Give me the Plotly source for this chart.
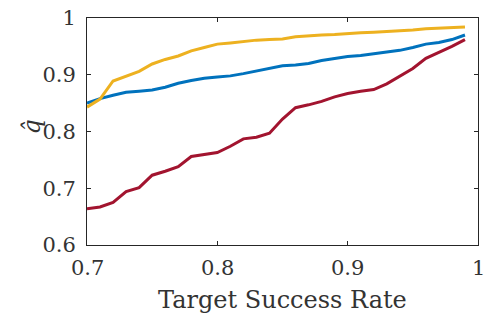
import plotly.graph_objects as go

x = [round(0.70 + 0.01 * i, 2) for i in range(30)]

q_yellow = [0.843, 0.857, 0.889, 0.897, 0.906, 0.919, 0.927, 0.933, 0.942, 0.948,
            0.954, 0.956, 0.959, 0.961, 0.962, 0.963, 0.967, 0.969, 0.970, 0.971,
            0.973, 0.974, 0.975, 0.976, 0.977, 0.979, 0.981, 0.982, 0.983, 0.984]
q_blue = [0.850, 0.858, 0.864, 0.869, 0.871, 0.873, 0.878, 0.885, 0.890, 0.894,
          0.896, 0.898, 0.902, 0.907, 0.912, 0.916, 0.917, 0.920, 0.925, 0.929,
          0.932, 0.934, 0.937, 0.941, 0.943, 0.948, 0.954, 0.957, 0.962, 0.970]
q_red = [0.664, 0.667, 0.675, 0.694, 0.701, 0.723, 0.730, 0.738, 0.756, 0.759,
         0.763, 0.774, 0.787, 0.790, 0.797, 0.822, 0.842, 0.847, 0.853, 0.861,
         0.867, 0.871, 0.874, 0.884, 0.897, 0.911, 0.929, 0.939, 0.950, 0.962]

xticks = [0.7, 0.8, 0.9, 1.0]
xticklabels = ["0.7", "0.8", "0.9", "1"]
yticks = [0.6, 0.7, 0.8, 0.9, 1.0]
yticklabels = ["0.6", "0.7", "0.8", "0.9", "1"]
xlabel = "Target Success Rate"
ylabel = "<i>q̂</i>"

FONT = "DejaVu Serif"
AX = "#262626"
TXT = "#333333"

fig = go.Figure()
for ys, col in [(q_blue, "#0072BD"), (q_red, "#A2142F"), (q_yellow, "#EDB120")]:
    fig.add_trace(go.Scatter(x=x, y=ys, mode="lines",
                             line=dict(color=col, width=3), showlegend=False))

axis_common = dict(showgrid=False, zeroline=False, showline=True, linecolor=AX,
                   linewidth=1, ticks="inside", ticklen=4, tickcolor=AX,
                   mirror="ticks",
                   tickfont=dict(family=FONT, size=21, color=TXT))

fig.update_xaxes(range=[0.7, 1.0], tickvals=xticks, showticklabels=False,
                 **axis_common)
fig.update_yaxes(range=[0.6, 1.0], tickvals=yticks, ticktext=yticklabels,
                 ticklabelstandoff=6, **axis_common)

# x tick labels placed through the x data scale
for v, t in zip(xticks, xticklabels):
    fig.add_annotation(x=v, xref="x", y=0, yref="paper", yanchor="top",
                       yshift=-9, text=t, showarrow=False,
                       font=dict(family=FONT, size=21, color=TXT))

fig.add_annotation(x=0.5, xref="paper", y=0, yref="paper", yanchor="top",
                   yshift=-39, text=xlabel, showarrow=False,
                   font=dict(family=FONT, size=24, color=TXT))
fig.add_annotation(x=0, xref="paper", y=0.5, yref="paper", xanchor="center",
                   xshift=-56, yshift=4, text=ylabel, textangle=-90,
                   showarrow=False, font=dict(family=FONT, size=24, color=TXT))

fig.update_layout(width=485, height=316,
                  margin=dict(l=87, r=6, t=15, b=71),
                  paper_bgcolor="white", plot_bgcolor="white")

fig.write_html("out.html", config={"displayModeBar": False},
               post_script="document.body.style.margin='0';document.body.style.overflow='hidden';")
